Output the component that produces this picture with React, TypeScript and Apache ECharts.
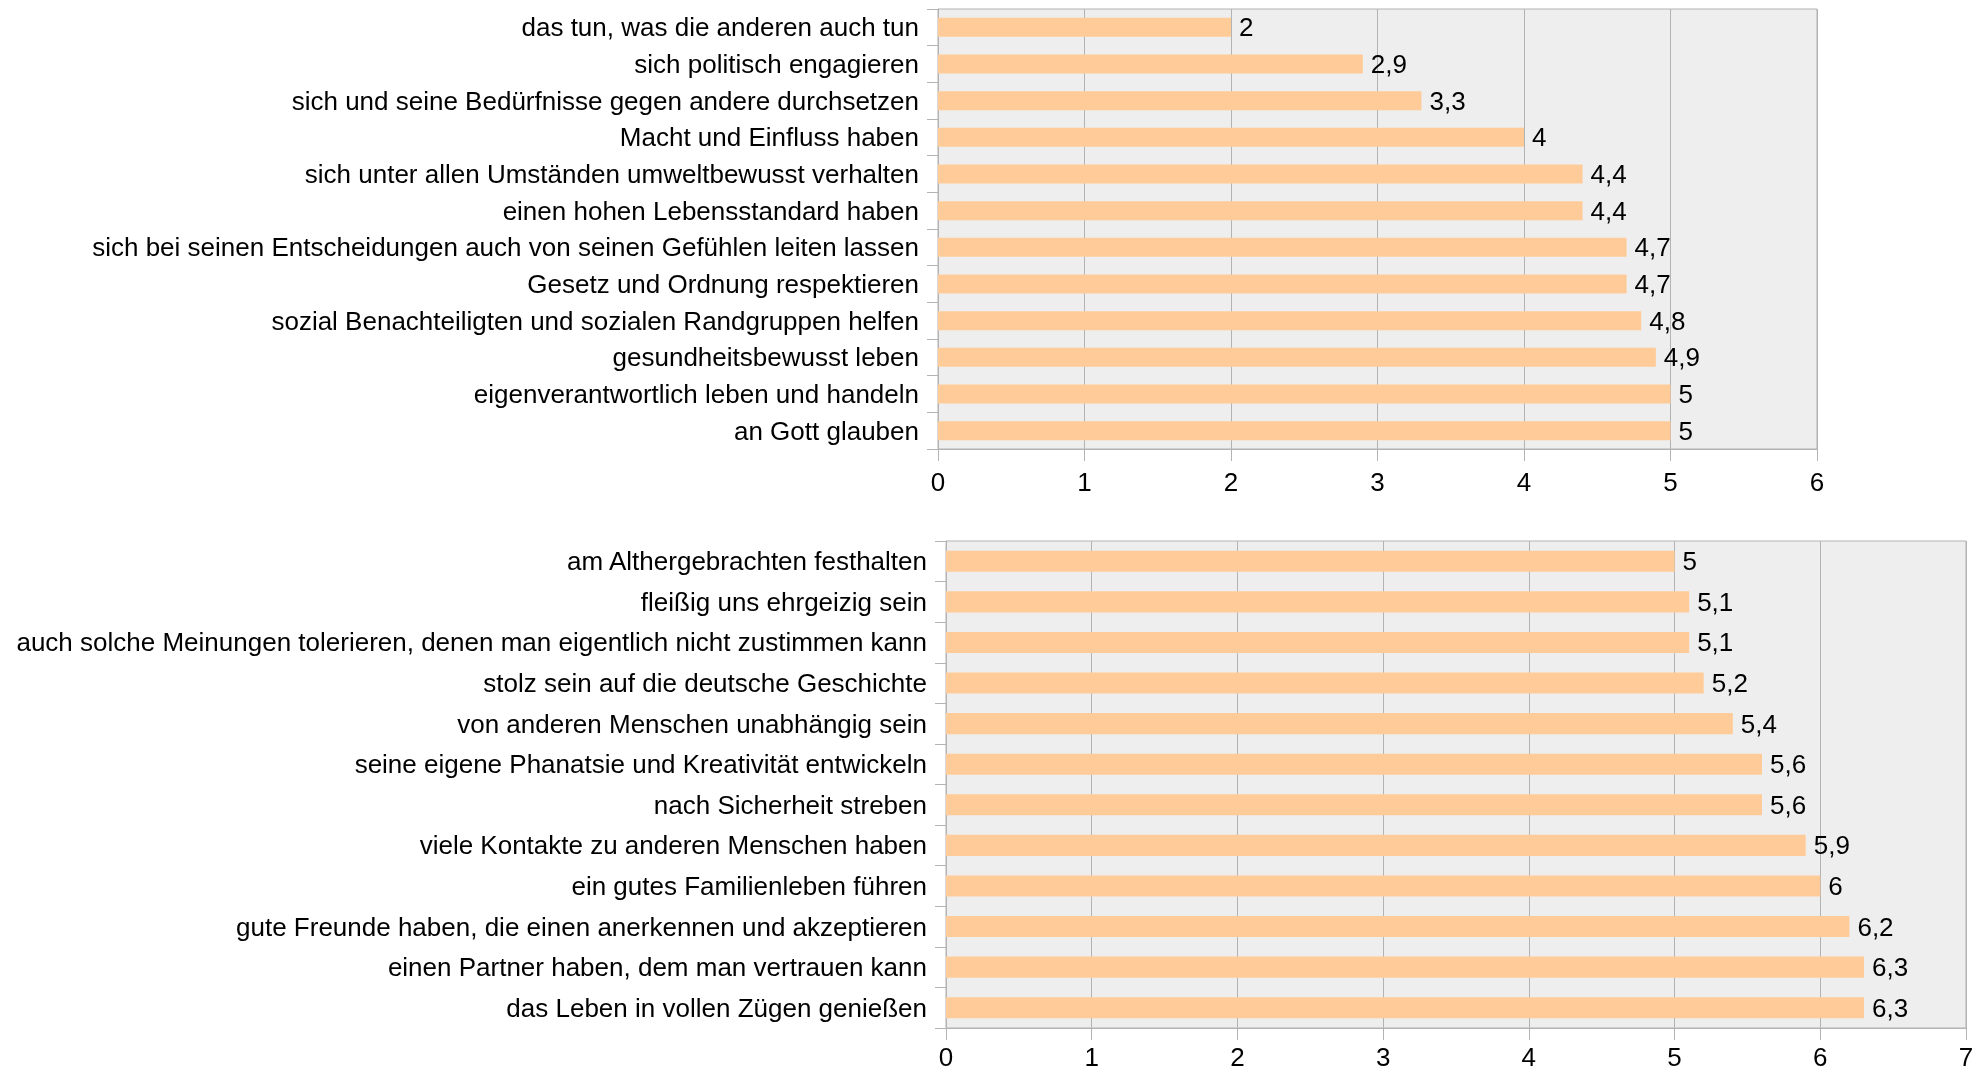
import React, { useEffect, useRef } from "react";
import * as echarts from "echarts";

const topCategories = [
  "das tun, was die anderen auch tun",
  "sich politisch engagieren",
  "sich und seine Bedürfnisse gegen andere durchsetzen",
  "Macht und Einfluss haben",
  "sich unter allen Umständen umweltbewusst verhalten",
  "einen hohen Lebensstandard haben",
  "sich bei seinen Entscheidungen auch von seinen Gefühlen leiten lassen",
  "Gesetz und Ordnung respektieren",
  "sozial Benachteiligten und sozialen Randgruppen helfen",
  "gesundheitsbewusst leben",
  "eigenverantwortlich leben und handeln",
  "an Gott glauben",
];
const topValues = [2, 2.9, 3.3, 4, 4.4, 4.4, 4.7, 4.7, 4.8, 4.9, 5, 5];

const bottomCategories = [
  "am Althergebrachten festhalten",
  "fleißig uns ehrgeizig sein",
  "auch solche Meinungen tolerieren, denen man eigentlich nicht zustimmen kann",
  "stolz sein auf die deutsche Geschichte",
  "von anderen Menschen unabhängig sein",
  "seine eigene Phanatsie und Kreativität entwickeln",
  "nach Sicherheit streben",
  "viele Kontakte zu anderen Menschen haben",
  "ein gutes Familienleben führen",
  "gute Freunde haben, die einen anerkennen und akzeptieren",
  "einen Partner haben, dem man vertrauen kann",
  "das Leben in vollen Zügen genießen",
];
const bottomValues = [5, 5.1, 5.1, 5.2, 5.4, 5.6, 5.6, 5.9, 6, 6.2, 6.3, 6.3];

const topTicks = { min: 0, max: 6, interval: 1 };
const bottomTicks = { min: 0, max: 7, interval: 1 };

const FONT = "Liberation Sans";
const FS = 26;
const GRAY = "#b3b3b3";
const BAR = "#ffcc99";

const fmt = (v: number) => String(v).replace(".", ",");

export default function App() {
  const ref = useRef<HTMLDivElement>(null);
  useEffect(() => {
    document.body.style.margin = "0";
    const chart = echarts.init(ref.current!, null, { renderer: "svg" });
    const valueAxis = (gridIndex: number, t: { min: number; max: number; interval: number }, margin: number) => ({
      type: "value",
      gridIndex,
      min: t.min,
      max: t.max,
      interval: t.interval,
      axisLine: { show: true, lineStyle: { color: GRAY, width: 1 } },
      axisTick: { show: true, length: 12, lineStyle: { color: GRAY } },
      axisLabel: {
        color: "#000",
        fontFamily: FONT,
        fontSize: FS,
        lineHeight: 20,
        margin,
        formatter: (v: number) => fmt(v),
      },
      splitLine: { show: true, lineStyle: { color: GRAY, width: 1 } },
    });
    const catAxis = (gridIndex: number, data: string[]) => ({
      type: "category",
      gridIndex,
      data,
      inverse: true,
      axisLine: { show: true, lineStyle: { color: GRAY, width: 1 } },
      axisTick: { show: true, length: 11, alignWithLabel: false, lineStyle: { color: GRAY } },
      axisLabel: { color: "#000", fontFamily: FONT, fontSize: FS, margin: 19 },
      splitLine: { show: false },
    });
    const barSeries = (idx: number, data: number[]) => ({
      type: "bar",
      xAxisIndex: idx,
      yAxisIndex: idx,
      data,
      barCategoryGap: "48%",
      itemStyle: { color: BAR },
      label: {
        show: true,
        position: "right",
        distance: 8,
        color: "#000",
        fontFamily: FONT,
        fontSize: FS,
        formatter: (p: any) => fmt(p.value),
      },
    });
    chart.setOption({
      animation: false,
      textStyle: { fontFamily: FONT },
      grid: [
        { left: 938, top: 9, width: 879, height: 440, show: true, backgroundColor: "#eeeeee", borderColor: GRAY, borderWidth: 1 },
        { left: 946, top: 541, width: 1020, height: 487, show: true, backgroundColor: "#eeeeee", borderColor: GRAY, borderWidth: 1 },
      ],
      xAxis: [valueAxis(0, topTicks, 23), valueAxis(1, bottomTicks, 19)],
      yAxis: [catAxis(0, topCategories), catAxis(1, bottomCategories)],
      series: [barSeries(0, topValues), barSeries(1, bottomValues)],
    });
    return () => chart.dispose();
  }, []);
  return <div ref={ref} style={{ position: "fixed", left: 0, top: 0, width: 1982, height: 1072 }} />;
}
